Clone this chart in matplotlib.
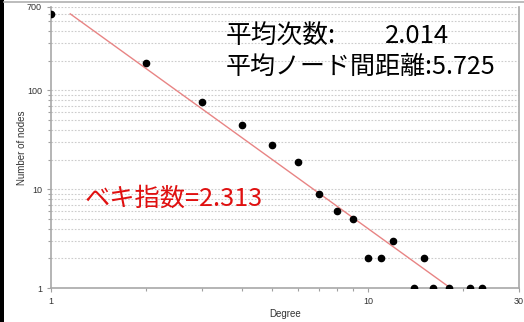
import matplotlib
matplotlib.use("Agg")
import matplotlib.pyplot as plt
import numpy as np
from matplotlib.lines import Line2D
from matplotlib.patches import Rectangle
from matplotlib.ticker import FixedLocator, NullFormatter, FixedFormatter

# Degree distribution
degree = [1, 2, 3, 4, 5, 6, 7, 8, 9, 10, 11, 12, 14, 15, 16, 18, 21, 23]
node_count = [600, 190, 77, 45, 28, 19, 9, 6, 5, 2, 2, 3, 1, 2, 1, 1, 1, 1]

# Power-law fit  n(k) = C * k^(-gamma)
fit_exponent = 2.313
fit_coeff = 824.0
fit_range = [1.15, 18.2]

avg_degree = "2.014"
avg_distance = "5.725"

x_ticks = [1, 10, 30]
y_ticks = [1, 10, 100, 700]

plt.rcParams["font.family"] = ["Liberation Sans", "DejaVu Sans"]
cjk = ["Noto Sans CJK JP", "DejaVu Sans"]

fig = plt.figure(figsize=(5.24, 3.22), dpi=100)
ax = fig.add_axes([51 / 524, 1 - 288 / 322, (519 - 51) / 524, (288 - 7) / 322])

ax.set_xscale("log")
ax.set_yscale("log")
ax.set_xlim(1, 30)
ax.set_ylim(1, 700)

# horizontal dotted grid at every log tick
ax.yaxis.set_major_locator(FixedLocator(y_ticks))
ax.yaxis.set_major_formatter(FixedFormatter([str(v) for v in y_ticks]))
ymin = [m * d for d in (1, 10, 100) for m in range(2, 10) if m * d < 700]
ax.yaxis.set_minor_locator(FixedLocator(ymin))
ax.yaxis.set_minor_formatter(NullFormatter())
for v in ymin + y_ticks[1:-1] + [700]:
    ax.axhline(v, color="#cccccc", lw=0.8, ls=(0, (1.5, 1.5)), zorder=0)

ax.xaxis.set_major_locator(FixedLocator(x_ticks))
ax.xaxis.set_major_formatter(FixedFormatter([str(v) for v in x_ticks]))
ax.xaxis.set_minor_locator(FixedLocator([2, 3, 4, 5, 6, 7, 8, 9, 20]))
ax.xaxis.set_minor_formatter(NullFormatter())

ax.tick_params(which="both", direction="out", color="#a0a0a0", labelsize=6.5,
               labelcolor="#333333", width=0.8)
ax.tick_params(which="major", length=3)
ax.tick_params(which="minor", length=2)

for side in ("left", "bottom", "right"):
    ax.spines[side].set_color("#a8a8a8")
    ax.spines[side].set_linewidth(1.2)
ax.spines["top"].set_visible(False)

# fitted line
fx = np.array(fit_range)
ax.plot(fx, fit_coeff * fx ** (-fit_exponent), color="#e88484", lw=1.0, zorder=2)

# observed points
ax.plot(degree, node_count, "o", color="black", ms=4.5, zorder=3)

ax.set_xlabel("Degree", fontsize=7, color="#333333", labelpad=2)
ax.set_ylabel("Number of nodes", fontsize=7, color="#333333", labelpad=0)

fig.text(226 / 524, 1 - 36 / 322, "平均次数:", family=cjk,
         fontsize=18.5, color="black", va="center", ha="left")
fig.text(385 / 524, 1 - 36 / 322, avg_degree, family=cjk,
         fontsize=18.5, color="black", va="center", ha="left")
fig.text(226 / 524, 1 - 67 / 322, "平均ノード間距離:" + avg_distance, family=cjk,
         fontsize=18, color="black", va="center", ha="left")
fig.text(85 / 524, 1 - 199 / 322, "ベキ指数=" + f"{fit_exponent:.3f}", family=cjk,
         fontsize=18.2, color="#e01010", va="center", ha="left")

# window frame
fig.add_artist(Rectangle((0, 0), 4 / 524, 1, transform=fig.transFigure,
                         color="black", lw=0))
fig.add_artist(Line2D([4 / 524, 1], [1 - 1.5 / 322] * 2, transform=fig.transFigure,
                      color="#b0b0b0", lw=1.2))

fig.savefig("out.png", dpi=100)
